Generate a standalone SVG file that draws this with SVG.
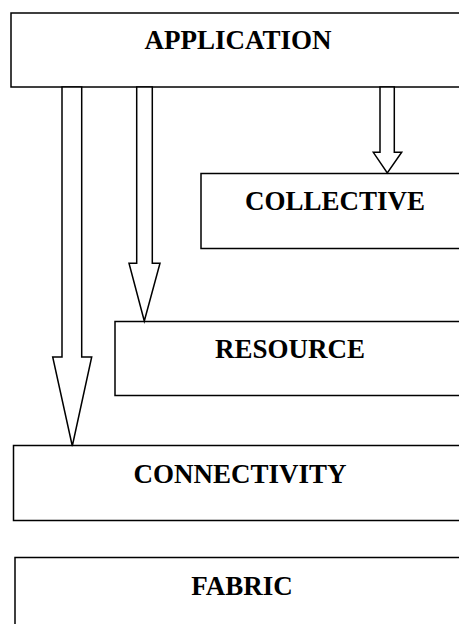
<svg xmlns="http://www.w3.org/2000/svg" width="459" height="624" viewBox="0 0 459 624">
<style>
.box{fill:#fff;stroke:#000;stroke-width:1.5}
.arr{fill:#fff;stroke:#000;stroke-width:1.5;stroke-linejoin:miter}
.lbl{font-family:"Liberation Serif","Times New Roman",serif;font-weight:bold;font-size:27px;text-anchor:middle;fill:#000}
</style>
<rect width="459" height="624" fill="#fff"/>
<g id="application"><rect class="box" x="11" y="13" width="456" height="74"/><text class="lbl" x="238" y="49">APPLICATION</text></g>
<g id="collective"><rect class="box" x="201" y="173.5" width="268" height="75"/><text class="lbl" x="335" y="210">COLLECTIVE</text></g>
<g id="resource"><rect class="box" x="115" y="321.5" width="352" height="74"/><text class="lbl" x="290" y="358">RESOURCE</text></g>
<g id="connectivity"><rect class="box" x="13.5" y="445.5" width="454" height="75"/><text class="lbl" x="240" y="483">CONNECTIVITY</text></g>
<g id="fabric"><rect class="box" x="15" y="557.5" width="454" height="80"/><text class="lbl" x="242" y="595">FABRIC</text></g>
<g id="connectors">
<polygon class="arr" points="62,87 62,357 52.7,357 72.3,446 91.7,357 81.7,357 81.7,87"/>
<polygon class="arr" points="136.7,87 136.7,263.3 129,263.3 144.3,321 160,263.3 152.3,263.3 152.3,87"/>
<polygon class="arr" points="380,87 380,152.3 373.3,152.3 387.3,173 401.7,152.3 394.3,152.3 394.3,87"/>
</g>
</svg>
